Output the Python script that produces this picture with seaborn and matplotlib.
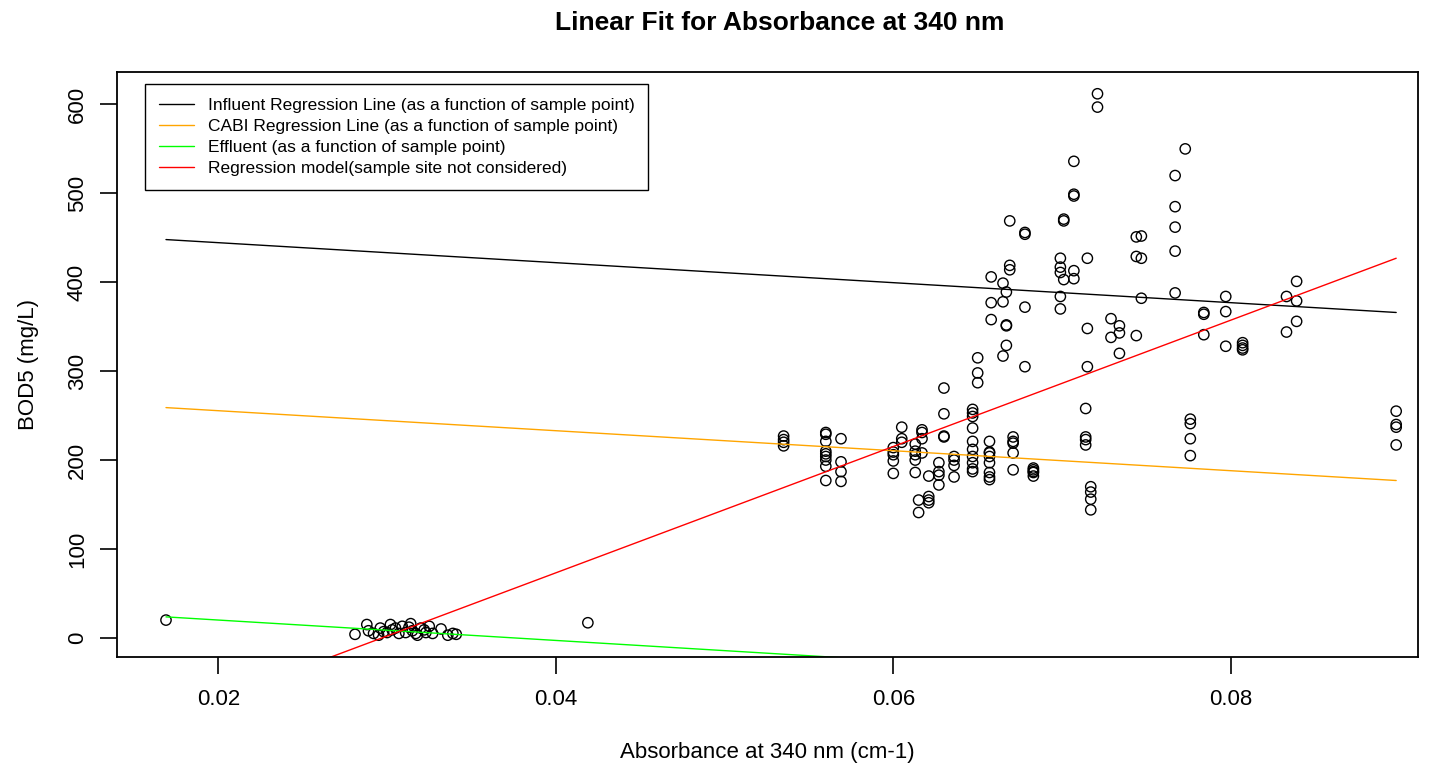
import numpy as np
import matplotlib
matplotlib.use('Agg')
import matplotlib.pyplot as plt
import seaborn as sns

# pisteet luettu kuvasta (absorbanssi 340 nm, BOD5 mg/L)
main_abs = [0.0535] * 4 + [0.0560] * 9 + [0.0569] * 4 + [0.0600] * 5 + [0.0605] * 3 \
    + [0.0613] * 5 + [0.0615] * 2 + [0.0617] * 4 + [0.0621] * 4 + [0.0627] * 4 \
    + [0.0630] * 4 + [0.0636] * 4 + [0.0647] * 10 + [0.0650] * 3 + [0.0657] * 8 \
    + [0.0658] * 3 + [0.0665] * 3 + [0.0667] * 4 + [0.0669] * 3 + [0.0671] * 5 \
    + [0.0678] * 4 + [0.0683] * 5 + [0.0699] * 5 + [0.0701] * 3 + [0.0707] * 5 \
    + [0.0714] * 4 + [0.0715] * 3 + [0.0717] * 4 + [0.0721] * 2 + [0.0729] * 2 \
    + [0.0734] * 3 + [0.0744] * 3 + [0.0747] * 3 + [0.0767] * 5 + [0.0773] * 1 \
    + [0.0776] * 4 + [0.0784] * 3 + [0.0797] * 3 + [0.0807] * 4 + [0.0833] * 2 \
    + [0.0839] * 3 + [0.0898] * 4
main_bod = [227, 223, 220, 216,
            231, 229, 221, 210, 207, 204, 200, 193, 177,
            224, 198, 187, 176,
            214, 209, 206, 199, 185,
            237, 224, 220,
            218, 210, 206, 200, 186,
            155, 141,
            234, 231, 224, 208,
            159, 155, 152, 182,
            197, 187, 183, 172,
            281, 252, 227, 226,
            204, 200, 194, 181,
            257, 253, 249, 236, 221, 212, 204, 197, 190, 187,
            315, 298, 287,
            221, 209, 208, 204, 197, 186, 181, 178,
            406, 377, 358,
            399, 378, 317,
            389, 352, 351, 329,
            469, 419, 414,
            226, 221, 219, 208, 189,
            456, 454, 372, 305,
            191, 189, 187, 186, 182,
            427, 417, 411, 384, 370,
            471, 469, 403,
            536, 499, 497, 413, 404,
            258, 226, 223, 217,
            427, 348, 305,
            170, 164, 156, 144,
            612, 597,
            359, 338,
            351, 343, 320,
            451, 429, 340,
            452, 427, 382,
            520, 485, 462, 435, 388,
            550,
            246, 241, 224, 205,
            366, 364, 341,
            384, 367, 328,
            332, 329, 326, 324,
            384, 344,
            401, 379, 356,
            255, 240, 237, 217]

eff_abs = [0.0169, 0.0419, 0.0281, 0.0288, 0.0289, 0.0292, 0.0296, 0.0298, 0.0302,
           0.0303, 0.0307, 0.0309, 0.0314, 0.0315, 0.0317, 0.0320, 0.0323, 0.0325,
           0.0332, 0.0336, 0.0339, 0.0341, 0.0295, 0.0305, 0.0311, 0.0313, 0.0318,
           0.0322, 0.0300, 0.0327]
eff_bod = [20, 17, 4, 15, 8, 5, 11, 7, 15,
           9, 5, 13, 16, 8, 5, 11, 6, 13,
           10, 3, 5, 4, 3, 11, 6, 12, 3,
           9, 6, 5]

# regressiosuorat (päätepisteet)
line_x = [0.0169, 0.0898]
influent_y = [448, 366]
cabi_y = [259, 177]
effluent_y = [23.6, -60]
model_y = [-91, 427]

x_ticks = [0.02, 0.04, 0.06, 0.08]
x_ticklabels = ['0.02', '0.04', '0.06', '0.08']
y_ticks = [0, 100, 200, 300, 400, 500, 600]

sns.set_style('ticks')
plt.rcParams['font.family'] = ['Liberation Sans', 'DejaVu Sans']
plt.rcParams['text.color'] = 'black'
plt.rcParams['axes.labelcolor'] = 'black'

fig = plt.figure(figsize=(14.31, 7.65), dpi=100)
ax = fig.add_axes([0.0818, 0.1412, 0.9092, 0.7647])

sns.scatterplot(x=main_abs + eff_abs, y=main_bod + eff_bod, ax=ax,
                marker='o', s=55, facecolors='none', edgecolor='black',
                linewidth=1.0)

sns.lineplot(x=line_x, y=influent_y, ax=ax, color='black', linewidth=1.0,
             label='Influent Regression Line (as a function of sample point)')
sns.lineplot(x=line_x, y=cabi_y, ax=ax, color='orange', linewidth=1.0,
             label='CABI Regression Line (as a function of sample point)')
sns.lineplot(x=line_x, y=effluent_y, ax=ax, color='#00ff00', linewidth=1.0,
             label='Effluent (as a function of sample point)')
sns.lineplot(x=line_x, y=model_y, ax=ax, color='red', linewidth=1.0,
             label='Regression model(sample site not considered)')

ax.set_xlim(0.0140, 0.0911)
ax.set_ylim(-21.5, 636.5)
ax.set_xticks(x_ticks, x_ticklabels)
ax.set_yticks(y_ticks)
ax.tick_params(axis='both', length=12, width=1.2, labelsize=16, direction='out',
               colors='black')
ax.tick_params(axis='x', pad=11)
ax.tick_params(axis='y', labelrotation=90, pad=9)
for lab in ax.get_yticklabels():
    lab.set_va('center')

for sp in ax.spines.values():
    sp.set_visible(True)
    sp.set_linewidth(1.3)
    sp.set_color('black')

ax.set_xlabel('Absorbance at 340 nm (cm-1)', fontsize=16, labelpad=23)
ax.set_ylabel('BOD5 (mg/L)', fontsize=16, labelpad=20)
ax.set_title('Linear Fit for Absorbance at 340 nm', fontsize=19,
             fontweight='bold', pad=30, x=0.509)

leg = ax.legend(loc='upper left', bbox_to_anchor=(0.0215, 0.9795),
                borderaxespad=0, fontsize=12.5, handlelength=2.0,
                handletextpad=0.8, borderpad=0.8, labelspacing=0.33,
                fancybox=False, framealpha=1)
leg.get_frame().set_edgecolor('black')
leg.get_frame().set_linewidth(1.0)

fig.savefig('out.png', dpi=100)
